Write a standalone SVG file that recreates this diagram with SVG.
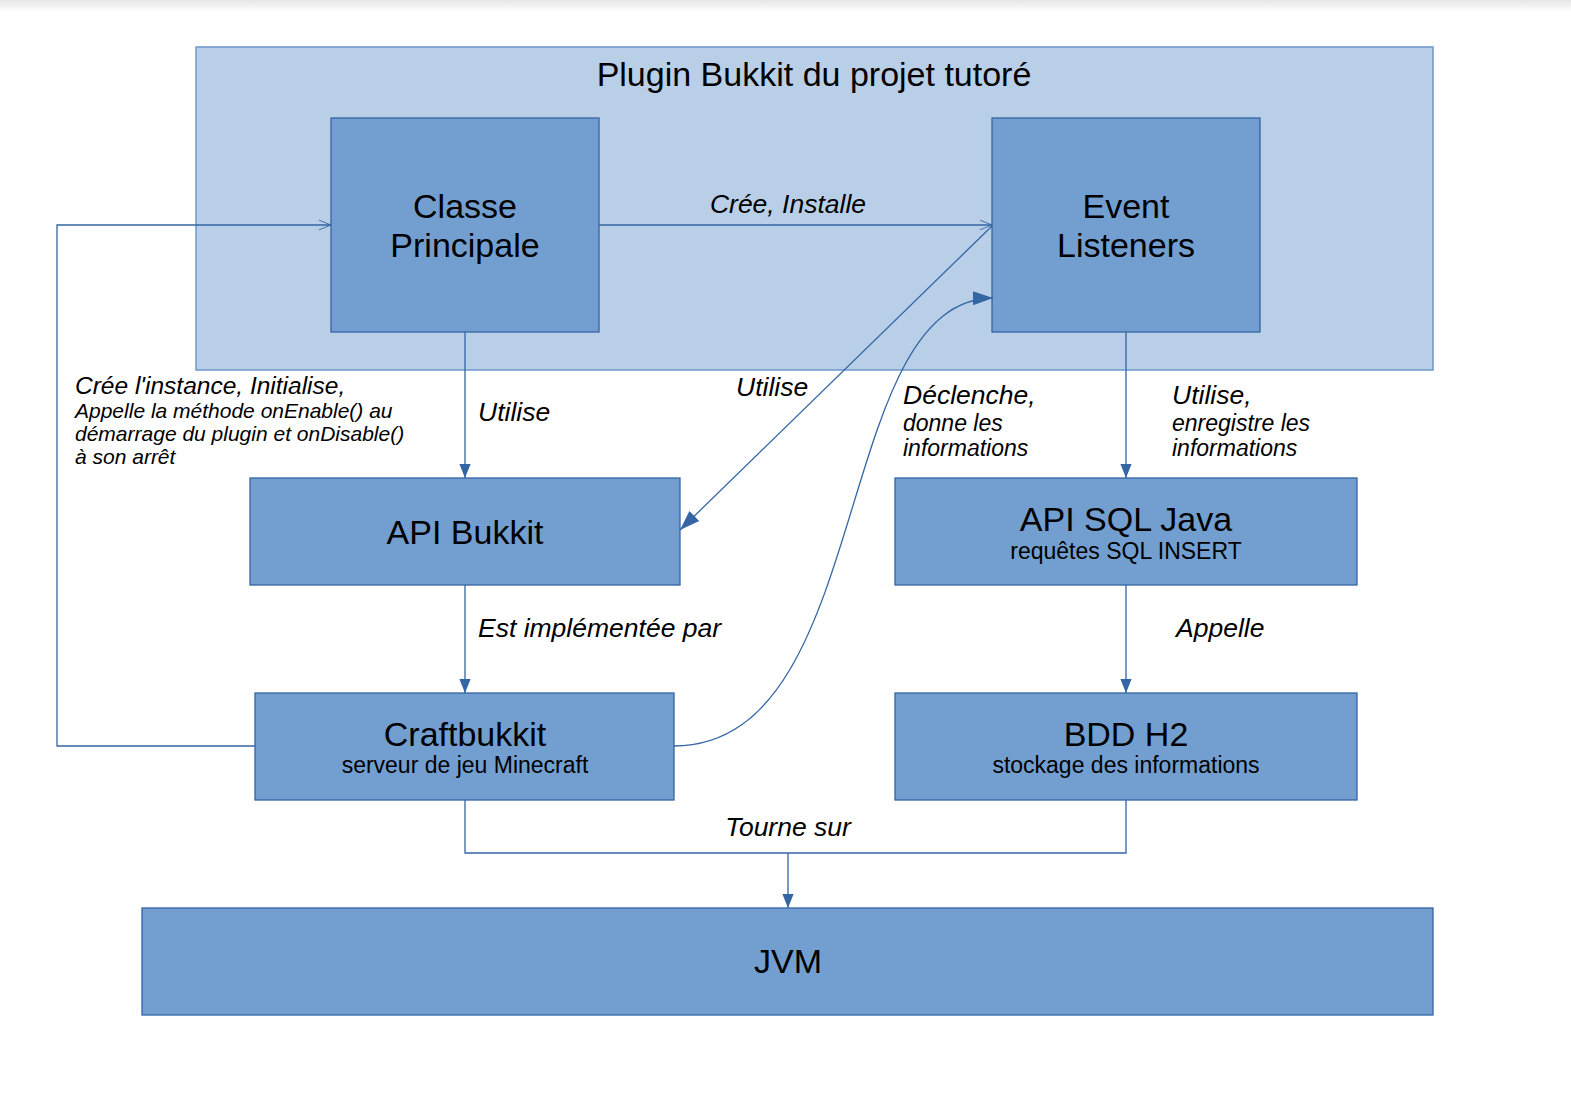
<svg xmlns="http://www.w3.org/2000/svg" width="1571" height="1103" viewBox="0 0 1571 1103">
<defs>
<linearGradient id="topShade" x1="0" y1="0" x2="0" y2="1">
<stop offset="0" stop-color="#e6e6e6"/>
<stop offset="1" stop-color="#ffffff"/>
</linearGradient>
<marker id="filled" viewBox="0 0 20 20" refX="20" refY="10" markerWidth="14" markerHeight="14" markerUnits="userSpaceOnUse" orient="auto">
<path d="M0,2 L20,10 L0,18 Z" fill="#3465a4"/>
</marker>
<marker id="bigfilled" viewBox="0 0 20 20" refX="20" refY="10" markerWidth="20" markerHeight="20" markerUnits="userSpaceOnUse" orient="auto">
<path d="M0,3 L20,10 L0,17 Z" fill="#3465a4"/>
</marker>
<marker id="open" viewBox="0 0 20 20" refX="20" refY="10" markerWidth="12" markerHeight="12" markerUnits="userSpaceOnUse" orient="auto">
<path d="M0,2 L20,10 L0,18" fill="none" stroke="#3465a4" stroke-width="1.5"/>
</marker>
</defs>
<style>
.node { fill: #729fcf; stroke: #3465a4; stroke-width: 1.3; }
.container { fill: #b9cfe7; stroke: #6d98cc; stroke-width: 1.5; }
.big { font-family: "Liberation Sans", Arial, sans-serif; font-size: 34px; fill: #000; text-anchor: middle; }
.sub { font-family: "Liberation Sans", Arial, sans-serif; font-size: 23px; fill: #000; text-anchor: middle; }
.title { font-family: "Liberation Sans", Arial, sans-serif; font-size: 34px; fill: #000; text-anchor: middle; }
.lbl { font-family: "Liberation Sans", Arial, sans-serif; font-style: italic; font-size: 26.5px; fill: #000; }
.lbls { font-family: "Liberation Sans", Arial, sans-serif; font-style: italic; font-size: 23px; fill: #000; }
.lblm { font-family: "Liberation Sans", Arial, sans-serif; font-style: italic; font-size: 24.5px; fill: #000; }
.lblxs { font-family: "Liberation Sans", Arial, sans-serif; font-style: italic; font-size: 21px; fill: #000; }
.edge { fill: none; stroke: #3465a4; stroke-width: 1.3; }
</style>
<rect x="0" y="0" width="1571" height="1103" fill="#ffffff"/>
<rect x="0" y="0" width="1571" height="12" fill="url(#topShade)"/>

<g id="plugin-container">
<rect class="container" x="196" y="47" width="1237" height="323"/>
<text class="title" x="814" y="86">Plugin Bukkit du projet tutoré</text>
</g>

<g id="classe-principale">
<rect class="node" x="331" y="118" width="268" height="214"/>
<text class="big" x="465" y="218">Classe</text>
<text class="big" x="465" y="257">Principale</text>
</g>

<g id="event-listeners">
<rect class="node" x="992" y="118" width="268" height="214"/>
<text class="big" x="1126" y="218">Event</text>
<text class="big" x="1126" y="257">Listeners</text>
</g>

<g id="api-bukkit">
<rect class="node" x="250" y="478" width="430" height="107"/>
<text class="big" x="465" y="544">API Bukkit</text>
</g>

<g id="api-sql-java">
<rect class="node" x="895" y="478" width="462" height="107"/>
<text class="big" x="1126" y="531">API SQL Java</text>
<text class="sub" x="1126" y="559">requêtes SQL INSERT</text>
</g>

<g id="craftbukkit">
<rect class="node" x="255" y="693" width="419" height="107"/>
<text class="big" x="465" y="746">Craftbukkit</text>
<text class="sub" x="465" y="773">serveur de jeu Minecraft</text>
</g>

<g id="bdd-h2">
<rect class="node" x="895" y="693" width="462" height="107"/>
<text class="big" x="1126" y="746">BDD H2</text>
<text class="sub" x="1126" y="773">stockage des informations</text>
</g>

<g id="jvm">
<rect class="node" x="142" y="908" width="1291" height="107"/>
<text class="big" x="788" y="973">JVM</text>
</g>

<g id="connectors">
<path class="edge" d="M255,746 L57,746 L57,225 L331,225" marker-end="url(#open)"/>
<path class="edge" d="M599,225 L992,225" marker-end="url(#open)"/>
<path class="edge" d="M465,332 L465,478" marker-end="url(#filled)"/>
<path class="edge" d="M992,226 L680,530" marker-end="url(#bigfilled)"/>
<path class="edge" d="M674,746 C875,746 830,300 993,298" marker-end="url(#bigfilled)"/>
<path class="edge" d="M1126,332 L1126,478" marker-end="url(#filled)"/>
<path class="edge" d="M465,585 L465,693" marker-end="url(#filled)"/>
<path class="edge" d="M1126,585 L1126,693" marker-end="url(#filled)"/>
<path class="edge" d="M465,800 L465,853 L1126,853 L1126,800"/>
<path class="edge" d="M788,853 L788,908" marker-end="url(#filled)"/>
</g>

<g id="connector-labels">
<text class="lbl" x="788" y="213" text-anchor="middle">Crée, Installe</text>
<text class="lbl" x="478" y="421">Utilise</text>
<text class="lbl" x="736" y="396">Utilise</text>
<text class="lblm" x="75" y="394">Crée l'instance, Initialise,</text>
<text class="lblxs" x="75" y="418">Appelle la méthode onEnable() au</text>
<text class="lblxs" x="75" y="441">démarrage du plugin et onDisable()</text>
<text class="lblxs" x="75" y="464">à son arrêt</text>
<text class="lbl" x="903" y="404">Déclenche,</text>
<text class="lbls" x="903" y="431">donne les</text>
<text class="lbls" x="903" y="456">informations</text>
<text class="lbl" x="1172" y="404">Utilise,</text>
<text class="lbls" x="1172" y="431">enregistre les</text>
<text class="lbls" x="1172" y="456">informations</text>
<text class="lbl" x="478" y="637">Est implémentée par</text>
<text class="lbl" x="1176" y="637">Appelle</text>
<text class="lbl" x="788" y="836" text-anchor="middle">Tourne sur</text>
</g>
</svg>
